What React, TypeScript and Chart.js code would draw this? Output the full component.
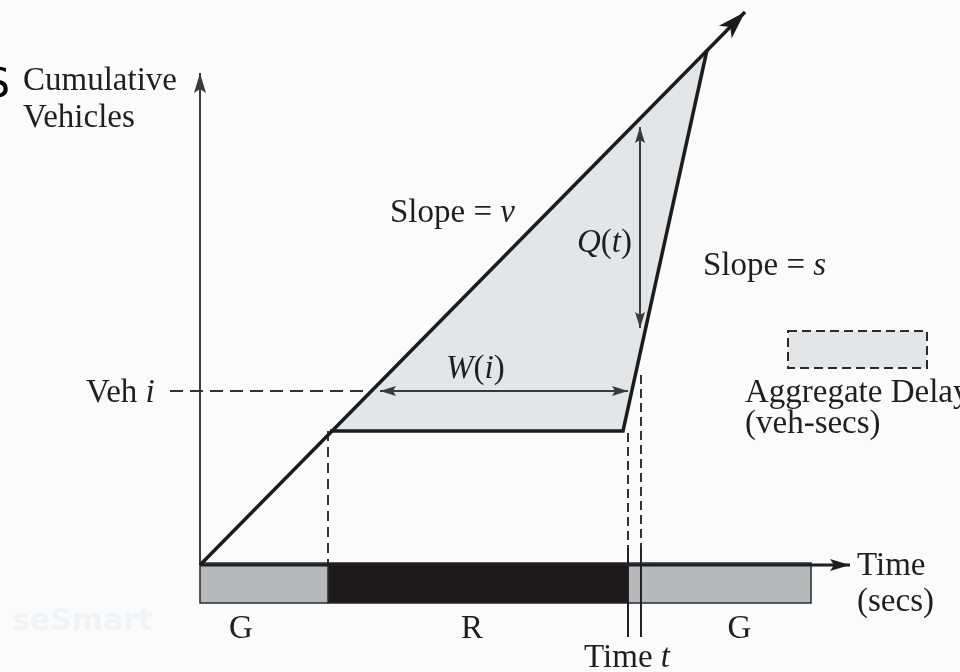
import React, { useEffect, useRef } from 'react';
import { Chart, registerables } from 'chart.js';

Chart.register(...registerables);

// ---- Data (time units, cumulative vehicles) ----
const phaseLabels = ['G', 'R', 'G'];
const phaseStart = [0, 12.8, 42.8];
const phaseEnd = [12.8, 42.8, 61.1];

const arrivalT = [0, 54.5];
const arrivalN = [0, 55.3];

const departureT = [13.0, 42.3, 50.7];
const departureN = [13.4, 13.4, 51.5];

const queueT = [13.0, 50.7, 42.3];
const queueN = [13.4, 51.5, 13.4];

const vehI = 17.4;
const vehIArrivalT = 17.0;
const waitT = [18.0, 42.8];

const timeT = 44.1;
const qArrowT = 44.0;
const qArrowN = [43.8, 23.7];

const yAxisTop = 49.2;
const xAxisEnd = 65;

const timeLinesT = [42.8, 44.1];
const timeLinesTopN = [13.2, 19.0];

// ---- layout constants (not data) ----
const X_MIN = -20, X_MAX = 76, Y_MIN = -10.7, Y_MAX = 56.5;
const BAR_TOP = 0.2, BAR_BOTTOM = -3.8, SOLID_FROM = 1.7, SOLID_TO = -7.2;
const SERIF = '"Liberation Serif", "Times New Roman", serif';
const TEXT = '#1f1f1f';
const LABEL_OFFSETS = [-23, -6, 20];

const pts = (ts: number[], ns: number[]) => ts.map((t, i) => ({ x: t, y: ns[i] }));

function head(ctx: CanvasRenderingContext2D, tx: number, ty: number, fx: number, fy: number, len: number, half: number, notch: number, color: string) {
  const a = Math.atan2(ty - fy, tx - fx);
  ctx.save();
  ctx.translate(tx, ty);
  ctx.rotate(a);
  ctx.fillStyle = color;
  ctx.beginPath();
  ctx.moveTo(0, 0);
  ctx.lineTo(-len, -half);
  ctx.lineTo(-len + notch, 0);
  ctx.lineTo(-len, half);
  ctx.closePath();
  ctx.fill();
  ctx.restore();
}

type Part = [string, boolean];
function drawParts(ctx: CanvasRenderingContext2D, parts: Part[], x: number, y: number, size: number, align: 'left' | 'center' = 'left') {
  const fontFor = (it: boolean) => `${it ? 'italic ' : ''}${size}px ${SERIF}`;
  let total = 0;
  parts.forEach(([s, it]) => { ctx.font = fontFor(it); total += ctx.measureText(s).width; });
  let cx = align === 'center' ? x - total / 2 : x;
  ctx.textAlign = 'left';
  ctx.textBaseline = 'alphabetic';
  ctx.fillStyle = TEXT;
  parts.forEach(([s, it]) => { ctx.font = fontFor(it); ctx.fillText(s, cx, y); cx += ctx.measureText(s).width; });
}

const diagramPlugin = {
  id: 'diagram',
  beforeDraw(chart: any) {
    const ctx = chart.ctx;
    ctx.save();
    ctx.fillStyle = '#fbfbfc';
    ctx.fillRect(0, 0, chart.width, chart.height);
    // watermark
    ctx.font = 'bold 30px "DejaVu Sans", sans-serif';
    ctx.fillStyle = '#f1f2f3';
    ctx.textBaseline = 'alphabetic';
    ctx.fillText('seSmart', 12, 630);
    ctx.restore();
  },
  afterDatasetsDraw(chart: any) {
    const ctx: CanvasRenderingContext2D = chart.ctx;
    const xs = chart.scales.x;
    ctx.save();
    // arrowheads
    chart.data.datasets.forEach((ds: any, i: number) => {
      const meta = chart.getDatasetMeta(i);
      const d = meta.data;
      if (!d || d.length < 2) return;
      if (ds.arrowEnd) {
        const a = ds.arrowEnd, p = d[d.length - 1], q = d[d.length - 2];
        head(ctx, p.x, p.y, q.x, q.y, a[0], a[1], a[2], ds.borderColor);
      }
      if (ds.arrowStart) {
        const a = ds.arrowStart, p = d[0], q = d[1];
        head(ctx, p.x, p.y, q.x, q.y, a[0], a[1], a[2], ds.borderColor);
      }
    });

    // legend box
    ctx.setLineDash([9, 5]);
    ctx.fillStyle = '#e4e5e7';
    ctx.fillRect(788, 331, 139, 37);
    ctx.strokeStyle = '#2a2a2a';
    ctx.lineWidth = 2;
    ctx.strokeRect(788, 331, 139, 37);
    ctx.setLineDash([]);

    // texts
    const F = 33;
    drawParts(ctx, [['Cumulative', false]], 23, 90, F);
    drawParts(ctx, [['Vehicles', false]], 23, 127, F);
    drawParts(ctx, [['Slope = ', false], ['v', true]], 390, 222, F);
    drawParts(ctx, [['Q', true], ['(', false], ['t', true], [')', false]], 577, 252, F);
    drawParts(ctx, [['Slope = ', false], ['s', true]], 703, 275, F);
    drawParts(ctx, [['W', true], ['(', false], ['i', true], [')', false]], 446, 378, F);
    drawParts(ctx, [['Veh ', false], ['i', true]], 86, 402, F);
    drawParts(ctx, [['Aggregate Delay', false]], 745, 402, F);
    drawParts(ctx, [['(veh-secs)', false]], 745, 433, F);
    drawParts(ctx, [['Time', false]], 857, 575, F);
    drawParts(ctx, [['(secs)', false]], 857, 611, F);
    phaseLabels.forEach((lab, i) => {
      const cx = xs.getPixelForValue((phaseStart[i] + phaseEnd[i]) / 2);
      drawParts(ctx, [[lab, false]], cx + LABEL_OFFSETS[i], 638, F, 'center');
    });
    drawParts(ctx, [['Time ', false], ['t', true]], xs.getPixelForValue(timeT) - 14, 667, F, 'center');

    // cut-off letter at the left edge
    ctx.font = '41px "DejaVu Sans", sans-serif';
    ctx.fillStyle = '#000';
    ctx.textAlign = 'left';
    ctx.fillText('S', -16, 97);
    ctx.restore();
  },
};

export default function App() {
  const ref = useRef<HTMLCanvasElement | null>(null);
  useEffect(() => {
    document.body.style.margin = '0';
    const canvas = ref.current;
    if (!canvas) return;

    const line = (data: any[], extra: any = {}) => ({
      type: 'scatter',
      data,
      showLine: true,
      pointRadius: 0,
      pointHoverRadius: 0,
      tension: 0,
      fill: false,
      borderColor: '#1c1c1c',
      borderWidth: 2,
      ...extra,
    });

    const phaseColors = ['#b7b8ba', '#1b1919', '#b7b8ba'];
    const bars = phaseLabels.map((_, i) =>
      line(
        [
          { x: phaseStart[i], y: BAR_TOP },
          { x: phaseEnd[i], y: BAR_TOP },
          { x: phaseEnd[i], y: BAR_BOTTOM },
          { x: phaseStart[i], y: BAR_BOTTOM },
          { x: phaseStart[i], y: BAR_TOP },
        ],
        { fill: 'shape', backgroundColor: phaseColors[i], borderColor: '#2a2a2a', borderWidth: 1.5, order: 8 }
      )
    );

    const datasets: any[] = [
      // main curves
      line(pts(arrivalT, arrivalN), { borderWidth: 3.5, arrowEnd: [28, 9, 7], order: 0 }),
      line(pts(departureT, departureN), { borderWidth: 3.5, order: 0 }),
      // axes
      line([{ x: 0, y: 0 }, { x: 0, y: yAxisTop }], { borderColor: '#3a3a3a', borderWidth: 2, arrowEnd: [20, 6, 4], order: 2 }),
      line([{ x: 0, y: 0 }, { x: xAxisEnd, y: 0 }], { borderColor: '#1f1f1f', borderWidth: 3, arrowEnd: [20, 6, 4], order: 1 }),
      // Q(t) arrow
      line([{ x: qArrowT, y: qArrowN[1] }, { x: qArrowT, y: qArrowN[0] }], { borderColor: '#3a3a3a', borderWidth: 2, arrowEnd: [16, 5, 3], arrowStart: [16, 5, 3], order: 1 }),
      // W(i) arrow
      line([{ x: waitT[0], y: vehI }, { x: waitT[1], y: vehI }], { borderColor: '#3a3a3a', borderWidth: 2, arrowEnd: [16, 5, 3], arrowStart: [16, 5, 3], order: 1 }),
      // Veh i dashed
      line([{ x: -3, y: vehI }, { x: vehIArrivalT, y: vehI }], { borderColor: '#333', borderWidth: 2, borderDash: [13, 7], order: 1 }),
      // start of red dashed
      line([{ x: phaseStart[1], y: departureN[0] }, { x: phaseStart[1], y: 0 }], { borderColor: '#333', borderWidth: 2, borderDash: [10, 6], order: 1 }),
      // time t lines
      ...timeLinesT.map((t, i) =>
        line([{ x: t, y: timeLinesTopN[i] }, { x: t, y: SOLID_FROM }], { borderColor: '#333', borderWidth: 2, borderDash: [9, 5], order: 1 })
      ),
      ...timeLinesT.map((t) =>
        line([{ x: t, y: SOLID_FROM }, { x: t, y: SOLID_TO }], { borderColor: '#222', borderWidth: 2, order: 1 })
      ),
      ...bars,
      // aggregate delay area
      line(pts(queueT, queueN).concat([{ x: queueT[0], y: queueN[0] }]), {
        fill: 'shape',
        backgroundColor: '#e4e5e7',
        borderWidth: 0,
        borderColor: 'rgba(0,0,0,0)',
        order: 10,
      }),
    ];

    const chart = new Chart(canvas, {
      type: 'scatter',
      data: { datasets },
      options: {
        responsive: false,
        animation: false,
        maintainAspectRatio: false,
        layout: { padding: 0 },
        events: [],
        plugins: { legend: { display: false }, tooltip: { enabled: false } },
        scales: {
          x: { type: 'linear', min: X_MIN, max: X_MAX, display: false },
          y: { type: 'linear', min: Y_MIN, max: Y_MAX, display: false },
        },
      },
      plugins: [diagramPlugin],
    } as any);
    return () => chart.destroy();
  }, []);

  return (
    <div style={{ position: 'absolute', left: 0, top: 0, width: 960, height: 672 }}>
      <canvas ref={ref} width={960} height={672} style={{ display: 'block', width: 960, height: 672 }} />
    </div>
  );
}
